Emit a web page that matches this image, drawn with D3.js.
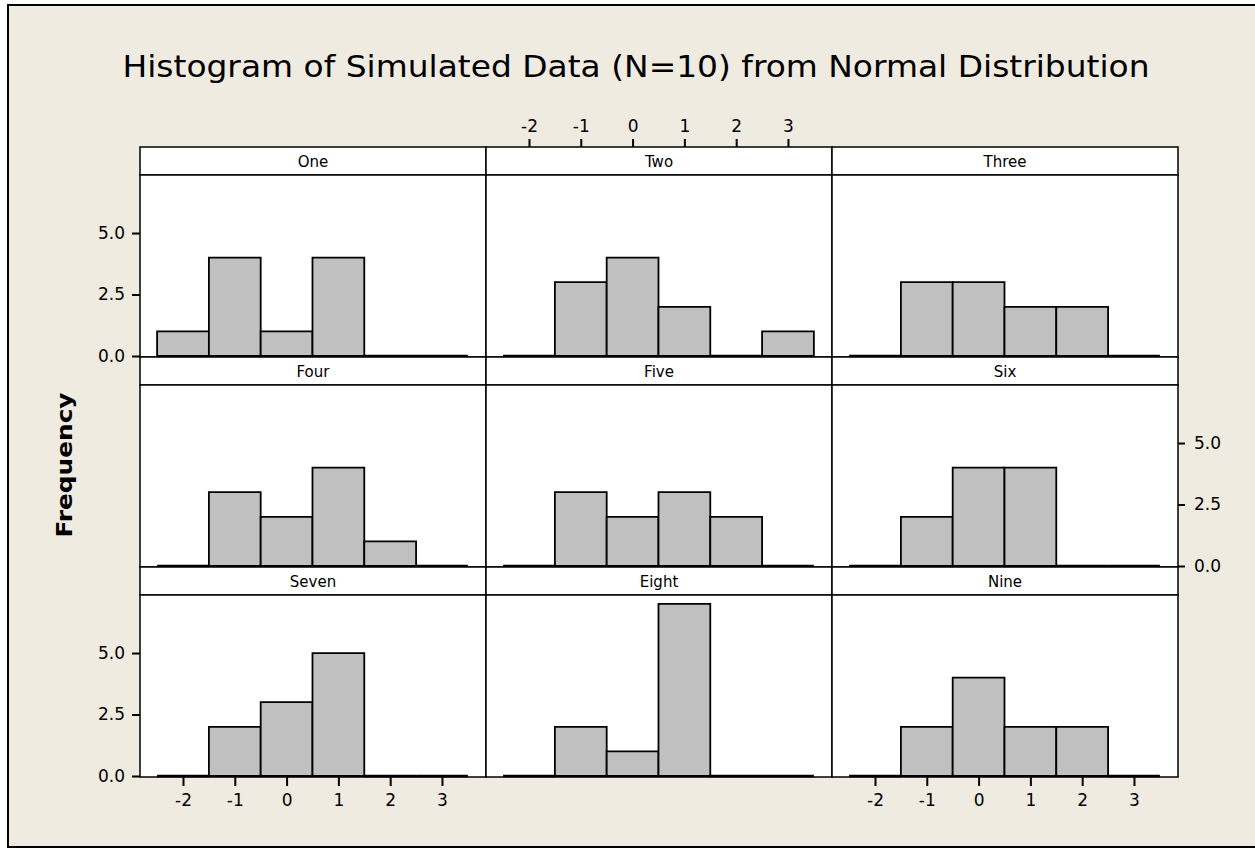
<!DOCTYPE html>
<html>
<head>
<meta charset="utf-8">
<script src="https://cdn.jsdelivr.net/npm/d3@7"></script>
<style>
  body { margin: 0; background: #ffffff; }
  svg { display: block; }
  text { font-family: "DejaVu Sans", Verdana, sans-serif; fill: #000; }
  .tick text { font-size: 17px; }
</style>
</head>
<body>
<svg id="chart" width="1255" height="848"></svg>
<script>
// Panel names, in reading order (3 x 3 grid)
const panelNames = ["One", "Two", "Three", "Four", "Five", "Six", "Seven", "Eight", "Nine"];

// Histogram bin midpoints (bin width 1)
const binMidpoints = [-2, -1, 0, 1, 2, 3];

// Frequencies per bin for each simulated sample of N = 10
const countsOne   = [1, 4, 1, 4, 0, 0];
const countsTwo   = [0, 3, 4, 2, 0, 1];
const countsThree = [0, 3, 3, 2, 2, 0];
const countsFour  = [0, 3, 2, 4, 1, 0];
const countsFive  = [0, 3, 2, 3, 2, 0];
const countsSix   = [0, 2, 4, 4, 0, 0];
const countsSeven = [0, 2, 3, 5, 0, 0];
const countsEight = [0, 2, 1, 7, 0, 0];
const countsNine  = [0, 2, 4, 2, 2, 0];

// Axis tick values and labels
const xTickValues = [-2, -1, 0, 1, 2, 3];
const xTickLabels = ["-2", "-1", "0", "1", "2", "3"];
const yTickValues = [0, 2.5, 5.0];
const yTickLabels = ["0.0", "2.5", "5.0"];

const panelCounts = [countsOne, countsTwo, countsThree, countsFour, countsFive,
                     countsSix, countsSeven, countsEight, countsNine];

const svg = d3.select("#chart");
const W = 1255, H = 848;

// Outer frame
svg.append("rect")
  .attr("x", 8).attr("y", 5).attr("width", W + 20).attr("height", 842)
  .attr("fill", "#efebe1").attr("stroke", "#000").attr("stroke-width", 2);

// Title
svg.append("text")
  .attr("x", 636).attr("y", 77)
  .attr("text-anchor", "middle")
  .style("font-size", "31px")
  .attr("textLength", 1027)
  .attr("lengthAdjust", "spacingAndGlyphs")
  .text("Histogram of Simulated Data (N=10) from Normal Distribution");

// Y axis title
svg.append("text")
  .attr("transform", "translate(72,465) rotate(-90)")
  .attr("text-anchor", "middle")
  .style("font-size", "21px")
  .style("font-weight", "bold")
  .attr("textLength", 145)
  .attr("lengthAdjust", "spacingAndGlyphs")
  .text("Frequency");

// Grid geometry
const gridLeft = 140, gridRight = 1178, gridTop = 147, gridBottom = 777;
const nCols = 3, nRows = 3;
const colW = (gridRight - gridLeft) / nCols;
const rowH = (gridBottom - gridTop) / nRows;
const stripH = 28;
const plotH = rowH - stripH;

const x = d3.scaleLinear().domain([-2.83, 3.85]).range([0, colW]);
const y = d3.scaleLinear().domain([0, 7.4]).range([plotH - 1, -1]);

const binHalf = 0.5;
const xFmt = d => xTickLabels[xTickValues.indexOf(d)];
const yFmt = d => yTickLabels[yTickValues.indexOf(d)];

function barPath(d) {
  const x0 = x(d.mid - binHalf), x1 = x(d.mid + binHalf);
  const y0 = y(0), y1 = y(d.count);
  return `M${x0},${y0}V${y1}H${x1}V${y0}Z`;
}

const styleAxis = sel => {
  sel.attr("font-size", null).attr("font-family", null);
  sel.select(".domain").remove();
  sel.selectAll(".tick line").attr("stroke", "#000").attr("stroke-width", 2);
  sel.selectAll(".tick text").style("font-size", "17px").attr("fill", "#000");
};

panelNames.forEach((name, i) => {
  const col = i % nCols, row = Math.floor(i / nCols);
  const px = gridLeft + col * colW;
  const py = gridTop + row * rowH;
  const g = svg.append("g").attr("transform", `translate(${px},${py})`);

  // Strip with the panel name
  g.append("rect")
    .attr("x", 0).attr("y", 0).attr("width", colW).attr("height", stripH)
    .attr("fill", "#fff").attr("stroke", "#000").attr("stroke-width", 1.5);
  g.append("text")
    .attr("x", colW / 2).attr("y", stripH / 2 + 5.5)
    .attr("text-anchor", "middle").style("font-size", "15px")
    .text(name);

  const plot = g.append("g").attr("transform", `translate(0,${stripH})`);
  plot.append("rect")
    .attr("x", 0).attr("y", 0).attr("width", colW).attr("height", plotH)
    .attr("fill", "#fff").attr("stroke", "#000").attr("stroke-width", 1.5);

  const bins = binMidpoints.map((m, k) => ({ mid: m, count: panelCounts[i][k] }));
  plot.selectAll("path.bar")
    .data(bins)
    .join("path")
    .attr("class", "bar")
    .attr("d", barPath)
    .attr("fill", "#c0c0c0")
    .attr("stroke", "#000")
    .attr("stroke-width", d => d.count === 0 ? 2.5 : 1.8)
    .attr("stroke-linejoin", "miter");

  // Axes on alternating sides
  if (name === "One" || name === "Seven") {
    plot.append("g")
      .call(d3.axisLeft(y).tickValues(yTickValues).tickFormat(yFmt).tickSize(8).tickPadding(7))
      .call(styleAxis);
  }
  if (name === "Six") {
    plot.append("g").attr("transform", `translate(${colW},0)`)
      .call(d3.axisRight(y).tickValues(yTickValues).tickFormat(yFmt).tickSize(7).tickPadding(9))
      .call(styleAxis);
  }
  if (name === "Two") {
    g.append("g")
      .call(d3.axisTop(x).tickValues(xTickValues).tickFormat(xFmt).tickSize(8).tickPadding(7))
      .call(styleAxis);
  }
  if (name === "Seven" || name === "Nine") {
    plot.append("g").attr("transform", `translate(0,${plotH})`)
      .call(d3.axisBottom(x).tickValues(xTickValues).tickFormat(xFmt).tickSize(9).tickPadding(8))
      .call(styleAxis);
  }
});
</script>
</body>
</html>
